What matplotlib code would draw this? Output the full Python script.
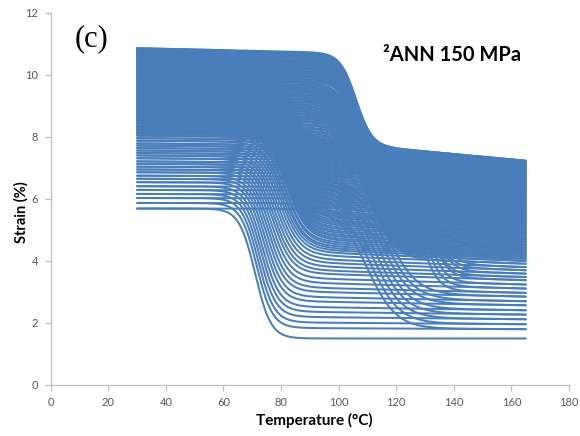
import numpy as np
import matplotlib
matplotlib.use("Agg")
import matplotlib.pyplot as plt

# ---------------------------------------------------------------------------
# Data: one entry per thermal cycle
# ---------------------------------------------------------------------------

# strain (%) at the cold end, 30 C
strain_cold = [
    5.68, 5.86, 6.02, 6.15, 6.28, 6.40, 6.53, 6.64, 6.74, 6.85,
    6.94, 7.03, 7.12, 7.20, 7.30, 7.39, 7.47, 7.55, 7.63, 7.71,
    7.78, 7.87, 7.95, 8.03, 8.09, 8.14, 8.20, 8.25, 8.31, 8.36,
    8.42, 8.47, 8.53, 8.58, 8.63, 8.68, 8.73, 8.78, 8.83, 8.88,
    8.93, 8.98, 9.03, 9.08, 9.13, 9.18, 9.22, 9.27, 9.32, 9.37,
    9.42, 9.46, 9.51, 9.56, 9.60, 9.65, 9.69, 9.74, 9.78, 9.83,
    9.87, 9.92, 9.96, 10.01, 10.05, 10.09, 10.14, 10.18, 10.22, 10.27,
    10.31, 10.35, 10.40, 10.44, 10.48, 10.52, 10.56, 10.60, 10.65, 10.69,
    10.73, 10.77, 10.81, 10.85,
]

# strain (%) at the hot end, 165 C
strain_hot = [
    1.49, 1.79, 1.95, 2.11, 2.26, 2.40, 2.56, 2.69, 2.84, 2.96,
    3.10, 3.23, 3.37, 3.47, 3.58, 3.69, 3.79, 3.90, 3.99, 4.06,
    4.12, 4.18, 4.24, 4.30, 4.36, 4.41, 4.47, 4.52, 4.58, 4.63,
    4.69, 4.74, 4.80, 4.85, 4.90, 4.95, 5.01, 5.06, 5.11, 5.16,
    5.21, 5.27, 5.32, 5.37, 5.42, 5.47, 5.52, 5.57, 5.62, 5.67,
    5.72, 5.77, 5.82, 5.87, 5.92, 5.96, 6.01, 6.06, 6.11, 6.15,
    6.20, 6.25, 6.29, 6.34, 6.38, 6.43, 6.47, 6.52, 6.56, 6.61,
    6.65, 6.70, 6.74, 6.79, 6.83, 6.87, 6.92, 6.96, 7.00, 7.05,
    7.09, 7.13, 7.18, 7.22,
]

# mid temperature (C) and half-width (C) of the transformation on heating
heat_mid = [
    110, 111, 112, 113, 114, 115, 116, 117, 128, 129,
    130, 131, 131, 132, 132, 133, 113, 112, 112, 111,
    111, 110, 110, 110, 109, 109, 109, 109, 109, 108,
    108, 108, 108, 108, 108, 108, 108, 108, 108, 108,
    107, 107, 107, 107, 107, 107, 107, 107, 107, 107,
    107, 107, 107, 107, 107, 107, 107, 107, 106, 106,
    106, 106, 106, 106, 106, 106, 106, 106, 106, 106,
    106, 106, 106, 106, 106, 106, 106, 106, 106, 106,
    106, 106, 106, 106,
]
heat_width = [
    10, 10, 10, 10, 10, 10, 10, 10, 6, 6,
    6, 6, 6, 6, 6, 6, 7, 7, 7, 7,
    7, 7, 7, 7, 6.5, 6.5, 6.5, 6.5, 6.5, 6.5,
    6.5, 6.5, 6.5, 6.5, 6.5, 6.5, 6.5, 6.5, 6.5, 6.5,
    6, 6, 6, 6, 6, 6, 6, 6, 6, 6,
    6, 6, 6, 6, 6, 6, 6, 6, 6, 6,
    5.5, 5.5, 5.5, 5.5, 5.5, 5.5, 5.5, 5.5, 5.5, 5.5,
    5.5, 5.5, 5.5, 5.5, 5.5, 5.5, 5.5, 5.5, 5.5, 5.5,
    5.5, 5.5, 5.5, 5.5,
]

# mid temperature (C) and half-width (C) of the transformation on cooling
cool_mid = [
    71, 71.5, 72, 72.5, 73, 73.5, 74, 74.5, 75, 75.5,
    76, 76.5, 77, 77.5, 78, 78.5, 79, 79.5, 80, 80.5,
    81, 81, 81.5, 81.5, 82, 82, 82, 82, 82, 82,
    82, 82, 82, 82, 82, 82, 82, 82, 82, 82,
    82, 82, 82, 82, 82, 82, 82, 82, 82, 82,
    82, 82, 82, 82, 82, 82, 82, 82, 82, 82,
    82, 82, 82, 82, 82, 82, 82, 82, 82, 82,
    82, 82, 82, 82, 82, 82, 82, 82, 82, 82,
    82, 82, 82, 82,
]
cool_width = [
    5.5, 5.5, 5.6, 5.7, 5.8, 5.9, 6.0, 6.1, 6.2, 6.3,
    6.4, 6.5, 6.6, 6.7, 6.8, 6.9, 7.0, 7.0, 7.0, 7.0,
    7.0, 7.0, 7.0, 7.0, 7.0, 7.0, 7.0, 7.0, 7.0, 7.0,
    7.0, 7.0, 7.0, 7.0, 7.0, 7.0, 7.0, 7.0, 7.0, 7.0,
    7.0, 7.0, 7.0, 7.0, 7.0, 7.0, 7.0, 7.0, 7.0, 7.0,
    7.0, 7.0, 7.0, 7.0, 7.0, 7.0, 7.0, 7.0, 7.0, 7.0,
    7.0, 7.0, 7.0, 7.0, 7.0, 7.0, 7.0, 7.0, 7.0, 7.0,
    7.0, 7.0, 7.0, 7.0, 7.0, 7.0, 7.0, 7.0, 7.0, 7.0,
    7.0, 7.0, 7.0, 7.0,
]

T_COLD, T_HOT = 30, 165
BLUE = "#4A7EBB"
GREY = "#BFBFBF"

plt.rcParams["font.family"] = ["Lato", "DejaVu Sans"]


def branch(T, hi, lo, mid, width):
    # martensite plateau tilts slightly, austenite plateau tilts more at high strain
    hi_line = hi - 0.0004 * (hi - strain_cold[0]) * (T - T_COLD)
    lo_line = lo + 0.0015 * (lo - strain_hot[0]) * (T_HOT - T)
    frac = 0.5 * (1 - np.tanh((T - mid) / width))
    return lo_line + (hi_line - lo_line) * frac


fig = plt.figure(figsize=(5.8, 4.36), dpi=100)
ax = fig.add_axes([0.0874, 0.1177, 0.8936, 0.8536])

T = np.linspace(T_COLD, T_HOT, 400)
n = len(strain_cold)
for k in range(n):
    # cooling: hot end of cycle k -> cold end of cycle k
    ax.plot(T, branch(T, strain_cold[k], strain_hot[k], cool_mid[k], cool_width[k]),
            color=BLUE, lw=1.45, solid_capstyle="round")
    # heating: cold end of cycle k -> hot end of next cycle
    nxt = strain_hot[min(k + 1, n - 1)]
    ax.plot(T, branch(T, strain_cold[k], nxt, heat_mid[k], heat_width[k]),
            color=BLUE, lw=1.45, solid_capstyle="round")

ax.set_xlim(0, 180)
ax.set_ylim(0, 12)
ax.set_xticks(range(0, 181, 20))
ax.set_yticks(range(0, 13, 2))
for side in ("top", "right"):
    ax.spines[side].set_visible(False)
for side in ("left", "bottom"):
    ax.spines[side].set_color(GREY)
    ax.spines[side].set_linewidth(0.9)
ax.tick_params(direction="out", length=4, width=0.9, color=GREY,
               labelcolor="#595959", labelsize=8, pad=5)

ax.set_xlabel("Temperature (°C)", fontsize=11, fontweight="bold")
ax.xaxis.label.set_va("center")
ax.xaxis.set_label_coords(0.508, -0.097)
ax.set_ylabel("Strain (%)", fontsize=10.5, fontweight="bold")
ax.yaxis.label.set_va("center")
ax.yaxis.set_label_coords(-0.057, 0.463)

fig.text(92 / 580, 1 - 39 / 436, "(c)", family=["Liberation Serif", "DejaVu Serif"],
         fontsize=22, ha="center", va="center")
fig.text(452 / 580, 1 - 55 / 436, "²ANN 150 MPa", fontsize=14.5, fontweight="bold",
         ha="center", va="center")

fig.savefig("out.png", dpi=100)
